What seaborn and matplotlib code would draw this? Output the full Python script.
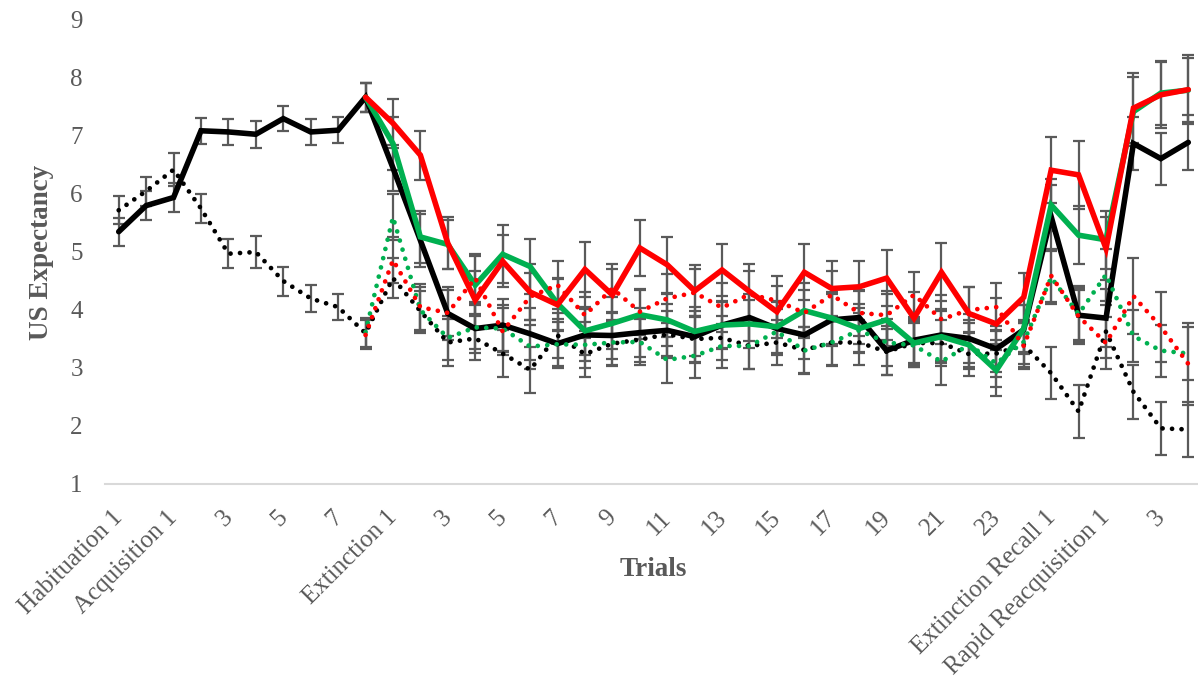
import numpy as np
import pandas as pd
import matplotlib
matplotlib.use("Agg")
import matplotlib.pyplot as plt
import matplotlib.transforms as mtransforms
import seaborn as sns

nan = np.nan

# ---------------- data ----------------
trial_labels = (["Habituation 1", "2"]
                + ["Acquisition 1"] + [str(i) for i in range(2, 9)]
                + ["Extinction 1"] + [str(i) for i in range(2, 25)]
                + ["Extinction Recall 1", "2"]
                + ["Rapid Reacquisition 1", "2", "3", "4"])

black_solid = [5.35, 5.80, 5.94, 7.09, 7.07, 7.03, 7.30, 7.07, 7.10, 7.67,
               6.45, 5.20, 3.94, 3.68, 3.74, 3.59, 3.42, 3.57, 3.56, 3.61, 3.65, 3.54,
               3.74, 3.87, 3.68, 3.57, 3.83, 3.87, 3.30, 3.48, 3.57, 3.51, 3.33, 3.66,
               5.61, 3.91,
               3.86, 6.87, 6.61, 6.89]
black_dotted = [5.72, 6.05, 6.42, 5.75, 4.97, 5.00, 4.50, 4.20, 4.05, 3.60,
                4.55, 3.98, 3.44, 3.51, 3.25, 2.97, 3.56, 3.24, 3.42, 3.49, 3.58, 3.50,
                3.52, 3.38, 3.44, 3.31, 3.44, 3.44, 3.28, 3.43, 3.43, 3.24, 3.25, 3.40,
                2.91, 2.25,
                3.63, 2.59, 1.96, 1.94]
green_solid = [nan] * 9 + [7.67,
               6.87, 5.26, 5.13, 4.43, 4.96, 4.75, 4.11, 3.64, 3.77, 3.92, 3.83, 3.63,
               3.74, 3.76, 3.71, 3.99, 3.86, 3.68, 3.83, 3.43, 3.54, 3.40, 2.96, 3.68,
               5.81, 5.29,
               5.21, 7.42, 7.74, 7.79]
green_dotted = [nan] * 9 + [3.62,
                5.60, 4.00, 3.52, 3.70, 3.68, 3.37, 3.41, 3.40, 3.44, 3.45, 3.14, 3.21,
                3.38, 3.38, 3.63, 3.30, 3.44, 3.65, 3.44, 3.39, 3.11, 3.40, 3.08, 3.45,
                4.56, 3.93,
                4.61, 3.55, 3.30, 3.25]
red_solid = [nan] * 9 + [7.67,
             7.22, 6.67, 5.15, 4.17, 4.84, 4.31, 4.09, 4.70, 4.26, 5.07, 4.78, 4.33,
             4.69, 4.32, 3.97, 4.65, 4.37, 4.40, 4.55, 3.86, 4.65, 3.94, 3.76, 4.22,
             6.41, 6.33,
             5.06, 7.48, 7.71, 7.80]
red_dotted = [nan] * 9 + [3.57,
              4.86, 4.05, 3.95, 4.55, 3.63, 4.23, 4.43, 3.91, 4.37, 3.97, 4.20, 4.30,
              4.04, 4.27, 4.16, 3.95, 4.26, 3.95, 3.91, 4.26, 3.84, 4.00, 4.05, 3.38,
              4.59, 3.89,
              3.43, 4.24, 3.71, 3.07]

# standard errors
black_solid_err = [0.24, 0.25, 0.25, 0.22, 0.22, 0.23, 0.22, 0.22, 0.22, 0.25,
                   0.40, 0.45, 0.45, 0.42, 0.45, 0.45, 0.42, 0.45, 0.40, 0.42, 0.45, 0.45,
                   0.42, 0.40, 0.45, 0.42, 0.45, 0.45, 0.42, 0.40, 0.45, 0.42, 0.40, 0.42,
                   0.55, 0.50,
                   0.50, 0.46, 0.45, 0.48]
black_dotted_err = [0.24, 0.25, 0.28, 0.25, 0.25, 0.27, 0.25, 0.23, 0.23, 0.25,
                    0.35, 0.35, 0.40, 0.38, 0.40, 0.40, 0.38, 0.40, 0.38, 0.38, 0.40, 0.40,
                    0.38, 0.40, 0.38, 0.40, 0.40, 0.38, 0.40, 0.38, 0.40, 0.38, 0.40, 0.38,
                    0.45, 0.45,
                    0.45, 0.47, 0.46, 0.48]
green_solid_err = [nan] * 9 + [0.25,
                   0.45, 0.45, 0.42, 0.50, 0.50, 0.48, 0.45, 0.42, 0.45, 0.42, 0.45, 0.42,
                   0.40, 0.42, 0.45, 0.48, 0.45, 0.42, 0.45, 0.42, 0.45, 0.42, 0.45, 0.40,
                   0.45, 0.50,
                   0.50, 0.60, 0.55, 0.55]
green_dotted_err = [nan] * 9 + [0.25,
                    0.40, 0.40, 0.38, 0.38, 0.40, 0.38, 0.38, 0.40, 0.38, 0.40, 0.40, 0.38,
                    0.38, 0.40, 0.38, 0.40, 0.38, 0.38, 0.40, 0.38, 0.40, 0.38, 0.40, 0.38,
                    0.45, 0.45,
                    0.45, 0.45, 0.45, 0.45]
red_solid_err = [nan] * 9 + [0.25,
                 0.42, 0.42, 0.45, 0.50, 0.45, 0.48, 0.45, 0.48, 0.45, 0.48, 0.48, 0.45,
                 0.45, 0.48, 0.45, 0.48, 0.48, 0.45, 0.48, 0.45, 0.50, 0.45, 0.45, 0.42,
                 0.57, 0.58,
                 0.55, 0.60, 0.57, 0.60]
red_dotted_err = [nan] * 9 + [0.25,
                  0.40, 0.40, 0.40, 0.42, 0.40, 0.40, 0.42, 0.40, 0.42, 0.40, 0.42, 0.40,
                  0.42, 0.40, 0.42, 0.40, 0.42, 0.40, 0.42, 0.40, 0.42, 0.40, 0.42, 0.40,
                  0.45, 0.45,
                  0.45, 0.65, 0.60, 0.70]

# ---------------- style ----------------
sns.set_theme(style="white")
plt.rcParams["font.family"] = ["Liberation Serif", "DejaVu Serif"]

TXT = "#595959"
ERR = "#5a5a5a"
BLACK, GREEN, RED = "#000000", "#00B050", "#FF0000"

fig = plt.figure(figsize=(11.98, 6.88), dpi=100)
ax = fig.add_axes([105 / 1198, 204 / 688, 1097 / 1198, 464 / 688])

x = np.arange(len(trial_labels))

series = [
    (black_solid, black_solid_err, BLACK, "solid"),
    (black_dotted, black_dotted_err, BLACK, "dotted"),
    (green_solid, green_solid_err, GREEN, "solid"),
    (green_dotted, green_dotted_err, GREEN, "dotted"),
    (red_solid, red_solid_err, RED, "solid"),
    (red_dotted, red_dotted_err, RED, "dotted"),
]

# error bars first (beneath lines)
for vals, errs, col, ls in series:
    ax.errorbar(x, vals, yerr=errs, fmt="none", ecolor=ERR, elinewidth=1.6,
                capsize=4, capthick=1.6, zorder=1)

z = 2
for vals, errs, col, ls in series:
    df = pd.DataFrame({"x": x, "y": vals}).dropna()
    if ls == "solid":
        sns.lineplot(data=df, x="x", y="y", color=col, linewidth=4.0,
                     ax=ax, zorder=z, solid_joinstyle="miter")
    else:
        sns.lineplot(data=df, x="x", y="y", color=col, linewidth=3.4,
                     linestyle=(0, (0.01, 2.0)), dash_capstyle="round",
                     ax=ax, zorder=z)
    z += 1

# ---------------- axes ----------------
ax.set_xlim(-0.5, len(trial_labels) - 0.5)
ax.set_ylim(1, 9)
ax.set_yticks(range(1, 10))
ax.set_yticklabels([str(v) for v in range(1, 10)], fontsize=18, color=TXT)
ax.set_xticks(x[::2])
ax.set_xticklabels(trial_labels[::2], rotation=45, ha="right",
                   rotation_mode="anchor", fontsize=18, color=TXT)
ax.tick_params(axis="both", length=0)
ax.tick_params(axis="x", pad=14)
ax.tick_params(axis="y", pad=16)

# nudge rotated category labels slightly left/down
shift = mtransforms.ScaledTranslation(-7 / 100, -3 / 100, fig.dpi_scale_trans)
for lab in ax.get_xticklabels():
    lab.set_transform(lab.get_transform() + shift)

for s in ["top", "right", "left"]:
    ax.spines[s].set_visible(False)
ax.spines["bottom"].set_color("#d9d9d9")
ax.spines["bottom"].set_linewidth(1.5)
ax.grid(False)

ax.set_xlabel("Trials", fontsize=19.5, fontweight="bold", color=TXT, va="center")
ax.xaxis.set_label_coords(0.5, -0.185)
ax.set_ylabel("US Expectancy", fontsize=19.5, fontweight="bold", color=TXT, va="center")
ax.yaxis.set_label_coords(-0.058, 0.5)

fig.savefig("out.png", dpi=100)
